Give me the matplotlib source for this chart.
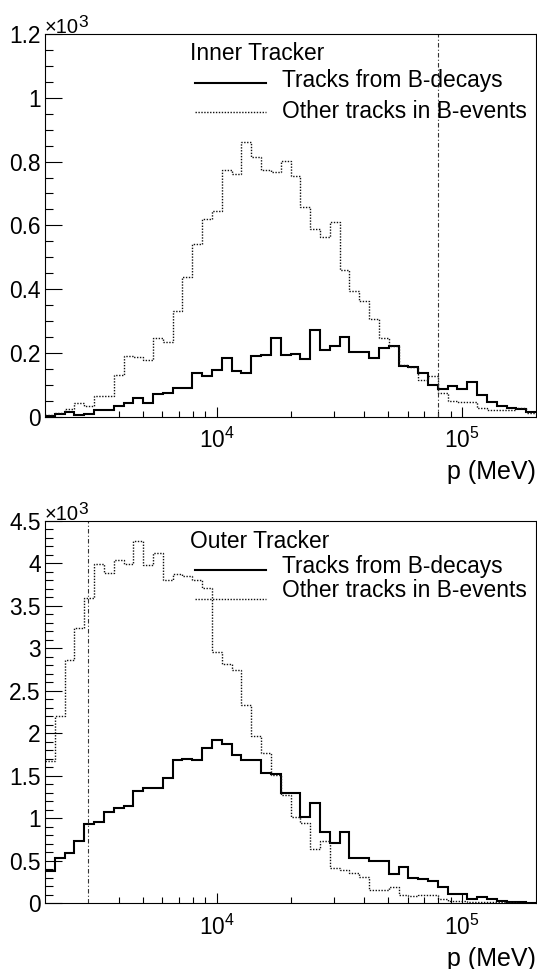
import numpy as np
import matplotlib
matplotlib.use('Agg')
import matplotlib.pyplot as plt
import matplotlib.transforms as mtransforms
from matplotlib.ticker import FixedLocator, FuncFormatter, MultipleLocator, NullFormatter

plt.rcParams['font.family'] = ['Liberation Sans', 'DejaVu Sans']
plt.rcParams['mathtext.fontset'] = 'custom'
plt.rcParams['mathtext.rm'] = 'Liberation Sans'
plt.rcParams['mathtext.it'] = 'Liberation Sans:italic'
plt.rcParams['mathtext.bf'] = 'Liberation Sans:bold'

# ---------------- data ----------------
p_min, p_max, n_bins = 2000, 200000, 50          # momentum range (MeV), log-binned
bin_edges = np.logspace(np.log10(p_min), np.log10(p_max), n_bins + 1)

inner_b_decays = [3, 8, 16, 4, 10, 20, 20, 33, 42, 60, 44, 71, 73, 89, 89, 138, 127, 146, 185, 143,
                  136, 190, 195, 246, 194, 198, 181, 272, 210, 221, 251, 203, 203, 185, 215, 222, 160, 155, 137, 99,
                  87, 97, 87, 108, 68, 47, 34, 28, 23, 15]
inner_other = [5, 12, 24, 42, 32, 64, 64, 130, 189, 186, 179, 247, 234, 332, 437, 540, 621, 645, 772, 760,
               862, 815, 772, 768, 801, 755, 658, 587, 562, 610, 460, 394, 364, 305, 246, 223, 162, 155, 115, 128,
               73, 50, 46, 46, 28, 22, 21, 22, 27, 12]
outer_b_decays = [385, 537, 592, 737, 933, 953, 1078, 1120, 1150, 1320, 1362, 1362, 1480, 1690, 1698, 1682, 1830, 1920, 1880, 1745,
                  1686, 1686, 1530, 1520, 1294, 1294, 1020, 1184, 835, 714, 843, 530, 530, 500, 500, 345, 424, 302, 286, 263,
                  196, 110, 110, 55, 70, 47, 27, 20, 12, 8]
outer_other = [1680, 2210, 2860, 3235, 3590, 3990, 3885, 4040, 3990, 4270, 3985, 4120, 3810, 3875, 3850, 3800, 3706, 2960, 2815, 2745,
               2333, 1975, 1770, 1505, 1280, 1010, 945, 640, 737, 410, 395, 352, 306, 157, 155, 186, 98, 88, 94, 100,
               48, 27, 27, 20, 20, 16, 12, 10, 8, 5]
inner_cut = 80000
outer_cut = 3000

titles = ['Inner Tracker', 'Outer Tracker']
labels = ['Tracks from B-decays', 'Other tracks in B-events']
x_title = 'p (MeV)'
x_major = [1e4, 1e5]
x_minor = [4e3, 5e3, 6e3, 7e3, 8e3, 9e3, 2e4, 3e4, 4e4, 5e4, 6e4, 7e4, 8e4, 9e4]

# ---------------- figure ----------------
W, H = 537, 969
fig = plt.figure(figsize=(W / 100, H / 100), dpi=100)


def add_axes_px(left, top, right, bottom):
    return fig.add_axes([left / W, 1 - bottom / H, (right - left) / W, (bottom - top) / H])


ax1 = add_axes_px(45, 34, 536, 416.7)
ax2 = add_axes_px(45, 521, 536, 903.3)

FS = 16.4
DOT = (0, (1, 1.1))
DASHDOT = (0, (4, 2, 1, 2))


def draw_panel(ax, b_vals, o_vals, cut, ymax, ymajor, yminor, title, text_y, line_y):
    ax.stairs(b_vals, bin_edges, color='black', lw=1.5, baseline=None)
    ax.stairs(o_vals, bin_edges, color='#111111', lw=1.0, linestyle=DOT, baseline=None)
    ax.axvline(cut, color='#333333', lw=0.8, linestyle=DASHDOT)

    ax.set_xscale('log')
    ax.set_xlim(p_min, p_max)
    ax.set_ylim(0, ymax)
    ax.xaxis.set_major_locator(FixedLocator(x_major))
    ax.xaxis.set_minor_locator(FixedLocator(x_minor))
    ax.xaxis.set_minor_formatter(NullFormatter())
    ax.yaxis.set_major_locator(MultipleLocator(ymajor))
    ax.yaxis.set_minor_locator(MultipleLocator(yminor))
    ax.yaxis.set_major_formatter(FuncFormatter(lambda v, pos: '%g' % round(v / 1000, 3)))

    ax.tick_params(axis='both', which='both', direction='in', top=False, right=False, width=0.8)
    ax.tick_params(axis='y', which='major', length=12, labelsize=FS, pad=3)
    ax.tick_params(axis='y', which='minor', length=6)
    ax.tick_params(axis='x', which='major', length=7.5, labelsize=FS, pad=8)
    ax.tick_params(axis='x', which='minor', length=4)
    for s in ax.spines.values():
        s.set_linewidth(0.8)

    # axis multiplier  x10^3
    ax.text(0.0, 1.003, '×10', transform=ax.transAxes, ha='left', va='baseline', fontsize=14.5)
    off = mtransforms.offset_copy(ax.transAxes, fig=fig, x=33, y=6, units='dots')
    ax.text(0.0, 1.003, '3', transform=off, ha='left', va='baseline', fontsize=12.5)

    ax.text(1.0, -0.163, x_title, transform=ax.transAxes, ha='right', va='baseline', fontsize=18)

    # legend
    ax.text(0.2953, text_y[0], title, transform=ax.transAxes, ha='left', va='baseline', fontsize=FS)
    ax.plot([0.3055, 0.450], [line_y[0]] * 2, transform=ax.transAxes, color='black', lw=1.5)
    ax.text(0.482, text_y[1], labels[0], transform=ax.transAxes, ha='left', va='baseline', fontsize=FS)
    ax.plot([0.3055, 0.450], [line_y[1]] * 2, transform=ax.transAxes, color='#111111', lw=1.0, linestyle=DOT)
    ax.text(0.482, text_y[2], labels[1], transform=ax.transAxes, ha='left', va='baseline', fontsize=FS)


draw_panel(ax1, inner_b_decays, inner_other, inner_cut, 1200, 200, 50, titles[0],
           [0.932, 0.8607, 0.7818], [0.8727, 0.797])
draw_panel(ax2, outer_b_decays, outer_other, outer_cut, 4500, 500, 100, titles[1],
           [0.9294, 0.8648, 0.8025], [0.873, 0.797])

fig.savefig('out.png', dpi=100)
